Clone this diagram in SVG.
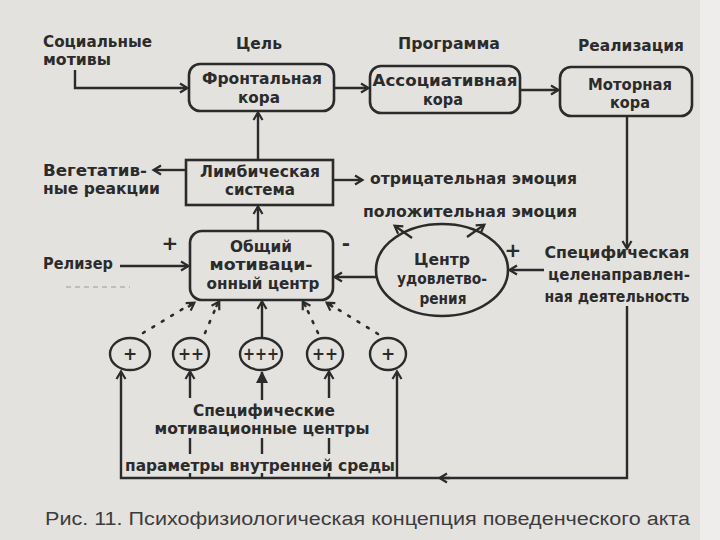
<svg xmlns="http://www.w3.org/2000/svg" width="720" height="540" viewBox="0 0 720 540">
<defs>
<style>
.t{font-family:"DejaVu Sans","Liberation Sans",sans-serif;font-weight:bold;font-size:15px;fill:#2b2b2b;}
.m{text-anchor:middle;}
.box{fill:none;stroke:#2b2b2b;stroke-width:2.6;}
.ln{fill:none;stroke:#2b2b2b;stroke-width:2.4;}
.dot{fill:none;stroke:#2b2b2b;stroke-width:2.6;stroke-dasharray:2 9;stroke-linecap:round;}
.cap{font-family:"Liberation Sans",Arial,sans-serif;font-size:18px;fill:#3c3c3c;}
</style>
<marker id="a" markerWidth="12" markerHeight="12" refX="9" refY="6" orient="auto" markerUnits="userSpaceOnUse">
<path d="M2,1.5 L9.5,6 L2,10.5" fill="none" stroke="#2b2b2b" stroke-width="2.2"/>
</marker>
<marker id="af" markerWidth="14" markerHeight="14" refX="11" refY="7" orient="auto" markerUnits="userSpaceOnUse">
<path d="M0,1 L12,7 L0,13 Z" fill="#2b2b2b"/>
</marker>
</defs>
<rect x="0" y="0" width="720" height="540" fill="#e4e2df"/>
<rect x="700" y="0" width="20" height="540" fill="#eeedeb"/>

<g id="labels">
<text class="t" x="43" y="47" textLength="109" lengthAdjust="spacingAndGlyphs">Социальные</text>
<text class="t" x="43" y="65" textLength="68" lengthAdjust="spacingAndGlyphs">мотивы</text>
<text class="t m" x="259" y="49" textLength="46" lengthAdjust="spacingAndGlyphs">Цель</text>
<text class="t m" x="449" y="49" textLength="102" lengthAdjust="spacingAndGlyphs">Программа</text>
<text class="t m" x="631" y="51" textLength="106" lengthAdjust="spacingAndGlyphs">Реализация</text>
<text class="t" x="43" y="176" textLength="104" lengthAdjust="spacingAndGlyphs">Вегетатив-</text>
<text class="t" x="43" y="194" textLength="117" lengthAdjust="spacingAndGlyphs">ные реакции</text>
<text class="t" x="370" y="184" textLength="207" lengthAdjust="spacingAndGlyphs">отрицательная эмоция</text>
<text class="t" x="363" y="217" textLength="214" lengthAdjust="spacingAndGlyphs">положительная эмоция</text>
<text class="t" x="43" y="269" textLength="70" lengthAdjust="spacingAndGlyphs">Релизер</text>
<text class="t m" x="617" y="258" textLength="145" lengthAdjust="spacingAndGlyphs">Специфическая</text>
<text class="t m" x="619" y="280" textLength="142" lengthAdjust="spacingAndGlyphs">целенаправлен-</text>
<text class="t m" x="617" y="302" textLength="145" lengthAdjust="spacingAndGlyphs">ная деятельность</text>
<text class="t m" x="264" y="416" textLength="142" lengthAdjust="spacingAndGlyphs">Специфические</text>
<text class="t m" x="262" y="434" textLength="215" lengthAdjust="spacingAndGlyphs">мотивационные центры</text>
<text class="t m" x="260" y="471" textLength="270" lengthAdjust="spacingAndGlyphs">параметры внутренней среды</text>
<text class="t m" x="170" y="250" style="font-size:20px">+</text>
<text class="t m" x="346" y="250" style="font-size:20px">-</text>
<text class="t m" x="513" y="257" style="font-size:20px">+</text>
</g>

<g id="frontal">
<rect class="box" x="189" y="64" width="145" height="47" rx="11"/>
<text class="t m" x="262" y="84" textLength="120" lengthAdjust="spacingAndGlyphs">Фронтальная</text>
<text class="t m" x="259" y="103" textLength="42" lengthAdjust="spacingAndGlyphs">кора</text>
</g>
<g id="assoc">
<rect class="box" x="370" y="66" width="150" height="47" rx="11"/>
<text class="t m" x="445" y="86" textLength="145" lengthAdjust="spacingAndGlyphs">Ассоциативная</text>
<text class="t m" x="443" y="105" textLength="40" lengthAdjust="spacingAndGlyphs">кора</text>
</g>
<g id="motor">
<rect class="box" x="560" y="67" width="132" height="49" rx="11"/>
<text class="t m" x="630" y="90" textLength="84" lengthAdjust="spacingAndGlyphs">Моторная</text>
<text class="t m" x="630" y="108" textLength="40" lengthAdjust="spacingAndGlyphs">кора</text>
</g>
<g id="limbic">
<rect class="box" x="186" y="160" width="147" height="45"/>
<text class="t m" x="260" y="177" textLength="120" lengthAdjust="spacingAndGlyphs">Лимбическая</text>
<text class="t m" x="260" y="195" textLength="70" lengthAdjust="spacingAndGlyphs">система</text>
</g>
<g id="general">
<rect class="box" x="190" y="231" width="143" height="69" rx="12"/>
<text class="t m" x="261" y="252" textLength="62" lengthAdjust="spacingAndGlyphs">Общий</text>
<text class="t m" x="261" y="270" textLength="103" lengthAdjust="spacingAndGlyphs">мотиваци-</text>
<text class="t m" x="263" y="289" textLength="113" lengthAdjust="spacingAndGlyphs">онный центр</text>
</g>
<g id="satisfaction">
<ellipse class="box" cx="442" cy="270" rx="66" ry="46"/>
<text class="t m" x="442" y="265" textLength="56" lengthAdjust="spacingAndGlyphs">Центр</text>
<text class="t m" x="442" y="284" textLength="90" lengthAdjust="spacingAndGlyphs">удовлетво-</text>
<text class="t m" x="443" y="304" textLength="47" lengthAdjust="spacingAndGlyphs">рения</text>
</g>
<g id="c1"><ellipse class="ln" cx="130" cy="354" rx="20" ry="16"/><text class="t m" x="130" y="360" style="font-size:17px">+</text></g>
<g id="c2"><ellipse class="ln" cx="191" cy="354" rx="18" ry="16"/><text class="t m" x="191" y="360" style="font-size:17px" textLength="26" lengthAdjust="spacingAndGlyphs">++</text></g>
<g id="c3"><ellipse class="ln" cx="261" cy="354" rx="21" ry="16"/><text class="t m" x="261" y="360" style="font-size:17px" textLength="36" lengthAdjust="spacingAndGlyphs">+++</text></g>
<g id="c4"><ellipse class="ln" cx="325" cy="354" rx="18" ry="16"/><text class="t m" x="325" y="360" style="font-size:17px" textLength="26" lengthAdjust="spacingAndGlyphs">++</text></g>
<g id="c5"><ellipse class="ln" cx="388" cy="354" rx="18" ry="16"/><text class="t m" x="388" y="360" style="font-size:17px">+</text></g>

<g id="connectors">
<path class="ln" d="M75,70 V88 H187" marker-end="url(#a)"/>
<path class="ln" d="M334,88 H368" marker-end="url(#a)"/>
<path class="ln" d="M520,90 H558" marker-end="url(#a)"/>
<path class="ln" d="M258,160 V113" marker-end="url(#a)"/>
<path class="ln" d="M258,230 V207" stroke-width="3.5" marker-end="url(#a)"/>
<path class="ln" d="M186,170 H154" marker-end="url(#a)"/>
<path class="ln" d="M333,180 H362" marker-end="url(#a)"/>
<path class="ln" d="M627,116 V248" marker-end="url(#a)"/>
<path class="ln" d="M544,270 H510" marker-end="url(#a)"/>
<path class="ln" d="M376,277 H335" marker-end="url(#a)"/>
<path class="ln" d="M120,266 H188" marker-end="url(#a)"/>
<path class="ln" d="M412,238 L395,226" marker-end="url(#a)"/>
<path class="ln" d="M467,237 L484,225" marker-end="url(#a)"/>
<path class="dot" d="M143,333 L191,304"/>
<path class="ln" d="M188,307 L194,303" marker-end="url(#a)"/>
<path class="dot" d="M205,333 L217,305"/>
<path class="ln" d="M216,307 L219,302" marker-end="url(#a)"/>
<path class="ln" d="M262,338 V302" stroke-width="4" marker-end="url(#a)"/>
<path class="dot" d="M318,333 L305,305"/>
<path class="ln" d="M306,307 L303,302" marker-end="url(#a)"/>
<path class="dot" d="M378,334 L331,305"/>
<path class="ln" d="M333,307 L327,303" marker-end="url(#a)"/>
<path class="ln" d="M627,306 V478 H121 V372" marker-end="url(#a)"/>
<path class="ln" d="M450,478 H440" marker-end="url(#a)"/>
<path class="ln" d="M190,398 V372" marker-end="url(#a)"/>
<path class="ln" d="M262,400 V372" stroke-width="3.5" marker-end="url(#af)"/>
<path class="ln" d="M329,398 V372" marker-end="url(#a)"/>
<path class="ln" d="M397,478 V372" marker-end="url(#a)"/>
<path class="ln" d="M190,438 V454 M190,473 V478"/>
<path class="ln" d="M262,438 V454 M262,473 V478" stroke-width="3.5"/>
<path class="ln" d="M329,438 V454 M329,473 V478"/>
<path d="M66,287 H130" stroke="#999" stroke-width="1.2" stroke-dasharray="5 4"/>
</g>
<text class="cap" x="45" y="525" textLength="645" lengthAdjust="spacingAndGlyphs">Рис. 11. Психофизиологическая концепция поведенческого акта</text>
</svg>
